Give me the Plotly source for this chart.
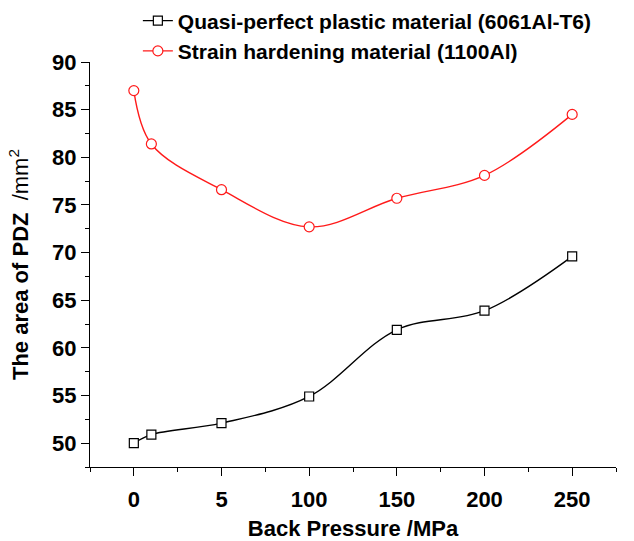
import numpy as np
import plotly.graph_objects as go

# ---- data ----
back_pressure = [0, 1, 5, 100, 150, 200, 250]
quasi_perfect = [50.0, 50.9, 52.1, 54.9, 61.9, 63.9, 69.6]
strain_hardening = [87.0, 81.4, 76.6, 72.7, 75.7, 78.1, 84.5]
tick_values = [0, 5, 100, 150, 200, 250]
tick_labels = ["0", "5", "100", "150", "200", "250"]
y_ticks = [50, 55, 60, 65, 70, 75, 80, 85, 90]

# categorical-like axis: each labelled tick is one equal step
tick_index = list(range(len(tick_values)))
x_pos = np.interp(back_pressure, tick_values, tick_index)

FONT = "Liberation Sans, Arial, Helvetica, sans-serif"

fig = go.Figure()
fig.add_trace(go.Scatter(
    x=x_pos, y=quasi_perfect, mode="lines+markers",
    name="Quasi-perfect plastic material (6061Al-T6)",
    line=dict(color="black", width=1.4, shape="spline", smoothing=1.0),
    marker=dict(symbol="square", size=9, color="white",
                line=dict(color="black", width=1.2)),
))
fig.add_trace(go.Scatter(
    x=x_pos, y=strain_hardening, mode="lines+markers",
    name="Strain hardening material (1100Al)",
    line=dict(color="#ff1a1a", width=1.4, shape="spline", smoothing=1.0),
    marker=dict(symbol="circle", size=10, color="white",
                line=dict(color="#ff1a1a", width=1.2)),
))

fig.update_layout(
    width=634, height=541,
    margin=dict(l=90, r=18, t=62, b=74, autoexpand=False),
    plot_bgcolor="white", paper_bgcolor="white",
    font=dict(family=FONT, size=22, color="black"),
    showlegend=True,
    legend=dict(
        x=0.091, xref="paper", xanchor="left",
        y=1.152, yanchor="top",
        font=dict(family=FONT, size=21, color="black", weight="bold"),
        bgcolor="rgba(0,0,0,0)", tracegroupgap=0,
    ),
    xaxis=dict(
        range=[-0.5, 5.5],
        tickmode="array", tickvals=tick_index, ticktext=tick_labels,
        showline=True, linecolor="black", linewidth=1.3, mirror=False,
        ticks="outside", ticklen=8, tickwidth=1.3, tickcolor="black",
        minor=dict(tickmode="linear", tick0=-0.5, dtick=0.5, ticks="outside",
                   ticklen=4, tickwidth=1.3, tickcolor="black"),
        showgrid=False, zeroline=False,
        tickfont=dict(family=FONT, size=22, color="black", weight="bold"),
        ticklabelstandoff=4,
        title=dict(text="Back Pressure /MPa", standoff=16,
                   font=dict(family=FONT, size=22, color="black", weight="bold")),
    ),
    yaxis=dict(
        range=[47.5, 90],
        tickmode="array", tickvals=y_ticks,
        showline=True, linecolor="black", linewidth=1.3, mirror=False,
        ticks="outside", ticklen=8, tickwidth=1.3, tickcolor="black",
        minor=dict(tickmode="linear", tick0=47.5, dtick=2.5, ticks="outside",
                   ticklen=4, tickwidth=1.3, tickcolor="black"),
        showgrid=False, zeroline=False,
        tickfont=dict(family=FONT, size=22, color="black", weight="bold"),
        title=dict(text="\u00a0\u00a0\u00a0<b>The area of PDZ</b>\u00a0\u00a0/mm<sup>2</sup>", standoff=17,
                   font=dict(family=FONT, size=22, color="black")),
    ),
)

fig.write_html("out.html")
